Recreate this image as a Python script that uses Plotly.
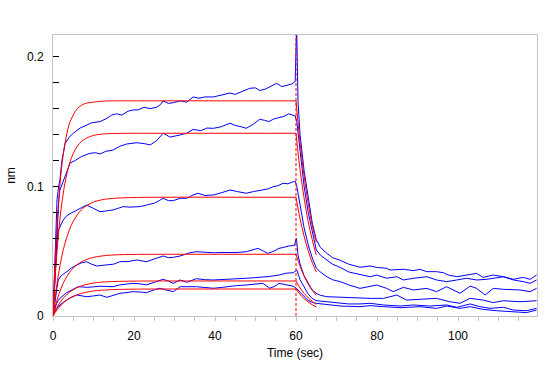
import plotly.graph_objects as go

# ---------------- data ----------------
ASSOC_END = 60

# measured sensorgrams (blue), six concentrations, top to bottom
A_t = [0, 0.3, 0.6, 1.0, 1.4, 1.7, 2.2, 3.0, 4.0, 5.0, 6.7, 8, 9.5, 11.6, 13, 14.5, 15.7, 17, 18.5, 19.8, 21, 22.5, 24, 25.5, 26.5, 27.2, 28.5, 29.7, 31.4, 33, 34.6, 36, 37.5, 39.6, 41, 42.5, 43.7, 45, 46.5, 48.6, 50, 51, 52.4, 53.5, 55.2, 56.5, 57.7, 59, 59.8,
       60.15, 60.5, 61, 62, 63, 64, 65, 66, 67.6, 69, 70.9, 73, 75.8,
       78.3, 79.9, 82.4, 83.2, 86.5, 89.0, 90.6, 92.3, 94.7, 96.4, 97.6, 99.7, 102.1, 104.6, 106.2, 108.7, 111.2, 113.7, 116.1, 117.8, 119.4]
A_v = [0, 0.03, 0.06, 0.09, 0.1, 0.105, 0.12, 0.133, 0.138, 0.141, 0.145, 0.147, 0.149, 0.150, 0.152, 0.155, 0.156, 0.155, 0.158, 0.159, 0.159, 0.161, 0.160, 0.161, 0.163, 0.166, 0.164, 0.1646, 0.166, 0.165, 0.169, 0.168, 0.169, 0.169, 0.170, 0.171, 0.172, 0.171, 0.173, 0.1757, 0.176, 0.174, 0.175, 0.177, 0.1795, 0.177, 0.178, 0.179, 0.181,
       0.225, 0.165, 0.14, 0.112, 0.09, 0.072, 0.059, 0.053, 0.0484, 0.045, 0.043, 0.040, 0.0376,
       0.0386, 0.0375, 0.0368, 0.0355, 0.036, 0.035, 0.036, 0.0342, 0.0342, 0.0334, 0.0316, 0.0303, 0.0316, 0.0329, 0.0298, 0.0316, 0.0303, 0.0283, 0.0298, 0.0283, 0.0316]

B_t = [0, 0.3, 0.7, 1.0, 1.4, 1.7, 2.5, 3.0, 4.2, 5.5, 7, 9.1, 10.5, 11.6, 13, 14.8, 16.5, 18.2, 19.5, 20.7, 22.5, 24, 25.5, 26.4, 27.2, 28.9, 30, 31.4, 33, 34.6, 36.5, 38, 39.6, 41.5, 43.7, 45, 46.5, 47.7, 49.5, 51, 52.2, 53.3, 54.5, 55.8, 57, 58.2, 59.8,
       60.2, 61, 62, 63, 64, 65, 66, 67.6, 69, 70.9, 73, 75.8,
       78.3, 79.9, 82.4, 84.9, 86.5, 89.0, 92.3, 94.7, 97.2, 99.7, 102.1, 104.6, 107.1, 111.2, 113.7, 116.1, 117.8, 119.4]
B_v = [0, 0.02, 0.05, 0.07, 0.088, 0.097, 0.104, 0.108, 0.118, 0.12, 0.123, 0.1255, 0.126, 0.125, 0.127, 0.128, 0.131, 0.1327, 0.133, 0.1337, 0.133, 0.132, 0.135, 0.138, 0.141, 0.138, 0.139, 0.1397, 0.141, 0.144, 0.143, 0.145, 0.1448, 0.146, 0.1487, 0.147, 0.146, 0.1448, 0.148, 0.1518, 0.151, 0.150, 0.152, 0.1533, 0.154, 0.156, 0.1543,
       0.150, 0.128, 0.1, 0.08, 0.064, 0.051, 0.047, 0.043, 0.040, 0.0375, 0.034, 0.032,
       0.0303, 0.0316, 0.0291, 0.0303, 0.0278, 0.0291, 0.0303, 0.0278, 0.0265, 0.0278, 0.0291, 0.0278, 0.0283, 0.0303, 0.0278, 0.0265, 0.0252, 0.0278]

C_t = [0, 0.3, 0.7, 1.0, 1.3, 2.0, 2.5, 3.3, 4.2, 5.5, 6.7, 8.3, 10, 11.6, 13, 14.8, 16, 17.3, 19, 21.5, 23.1, 25, 26.2, 27.2, 28.5, 29.7, 31.4, 33, 34.6, 35.8, 37.5, 39.6, 41.5, 43.7, 45.5, 47.7, 49.5, 51.8, 53, 54.4, 55.5, 56.8, 58, 59.3, 59.8,
       60.2, 61, 62, 63, 64, 65, 66, 67.6, 69, 70.9, 73, 75.8,
       78.3, 79.9, 82.4, 84.0, 86.5, 89.0, 92.3, 94.7, 97.2, 100.5, 103.0, 104.6, 106.7, 108.7, 111.2, 115.3, 117.8, 119.4]
C_v = [0, 0.02, 0.045, 0.058, 0.066, 0.071, 0.074, 0.077, 0.079, 0.081, 0.083, 0.0856, 0.083, 0.0805, 0.081, 0.0818, 0.083, 0.0844, 0.084, 0.0844, 0.0856, 0.087, 0.089, 0.0908, 0.089, 0.089, 0.0908, 0.0908, 0.0934, 0.0947, 0.093, 0.0934, 0.095, 0.0972, 0.096, 0.0947, 0.096, 0.0972, 0.098, 0.0998, 0.1005, 0.1024, 0.102, 0.1036, 0.104,
       0.100, 0.085, 0.068, 0.055, 0.045, 0.037, 0.034, 0.0303, 0.028, 0.0265, 0.024, 0.0213,
       0.0231, 0.0239, 0.0213, 0.0188, 0.0221, 0.0201, 0.0213, 0.0188, 0.0226, 0.0175, 0.0231, 0.0213, 0.0162, 0.0213, 0.0206, 0.0201, 0.0188, 0.0213]

D_t = [0, 0.3, 0.6, 1.0, 1.3, 2.0, 3.4, 4.5, 5.9, 7, 8.3, 9.5, 10.8, 12, 13.3, 15, 16.5, 18.5, 20.7, 22, 23.1, 25, 27.2, 28.5, 29.7, 31.4, 33.8, 35.4, 37.5, 39.6, 41.5, 43.7, 45.5, 47.7, 49.2, 50.6, 52, 53, 54.5, 55.8, 57, 58.2, 59.6,
       60.1, 60.5, 61, 62, 63, 64, 65, 66, 67.6, 70.9, 73, 75.8,
       78.3, 81.6, 84.9, 87.3, 90.6, 94.7, 98.0, 100.5, 103.0, 106.2, 108.7, 111.2, 115.3, 119.4]
D_v = [0, 0.008, 0.015, 0.022, 0.0278, 0.031, 0.0342, 0.037, 0.0394, 0.041, 0.0419, 0.040, 0.0386, 0.039, 0.0394, 0.040, 0.0419, 0.042, 0.0432, 0.0425, 0.0419, 0.044, 0.0463, 0.045, 0.0453, 0.0463, 0.0488, 0.0496, 0.049, 0.0488, 0.049, 0.0488, 0.049, 0.0496, 0.051, 0.0522, 0.050, 0.0483, 0.050, 0.0522, 0.053, 0.054, 0.0545,
       0.060, 0.047, 0.040, 0.031, 0.025, 0.020, 0.0175, 0.016, 0.0149, 0.0144, 0.014, 0.0136,
       0.0136, 0.0136, 0.0162, 0.0123, 0.0129, 0.0136, 0.011, 0.0098, 0.0136, 0.0123, 0.0103, 0.0118, 0.011, 0.0118]

E_t = [0, 0.4, 0.9, 1.5, 2.5, 3.3, 4.2, 5.2, 6.2, 7.3, 8.3, 10, 11.6, 13, 14.8, 16.5, 18, 19.8, 21.5, 23.1, 25, 27.2, 28.5, 29.7, 31.4, 33, 35.4, 37.5, 39.6, 41.5, 43.7, 45.5, 47.7, 49.5, 51.8, 53.5, 55.8, 57.5, 59.3,
       60.2, 61, 62, 63, 64, 65, 67.6, 70.9, 73, 75.8,
       78.3, 81.6, 85.7, 89.0, 93.1, 97.2, 99.7, 103.0, 105.4, 107.9, 111.2, 113.7, 116.9, 119.4]
E_v = [0, 0.005, 0.0098, 0.013, 0.0162, 0.018, 0.0193, 0.021, 0.0226, 0.0224, 0.0221, 0.0225, 0.023, 0.0228, 0.0226, 0.024, 0.0245, 0.0252, 0.0248, 0.024, 0.026, 0.0283, 0.027, 0.0252, 0.0278, 0.026, 0.0288, 0.028, 0.0278, 0.028, 0.0283, 0.0288, 0.0291, 0.0295, 0.030, 0.0305, 0.0316, 0.033, 0.0334,
       0.0355, 0.028, 0.022, 0.017, 0.0135, 0.0118, 0.011, 0.0098, 0.0093, 0.0093,
       0.0098, 0.0085, 0.0077, 0.0085, 0.0077, 0.0085, 0.0067, 0.0093, 0.0072, 0.0059, 0.0067, 0.0046, 0.0041, 0.0059]

F_t = [0, 0.5, 1.3, 2.2, 3.4, 4.5, 5.9, 7, 8.3, 10, 11.6, 13.3, 15, 16.5, 18, 19.8, 21.5, 23.1, 24.8, 26.4, 28, 29.7, 31.4, 33, 35.4, 37.5, 39.6, 41.5, 43.7, 45.5, 47.7, 49.8, 51.8, 53.5, 54.8, 55.8, 57.5, 59.3,
       60.2, 61, 62, 63, 64, 65, 67.6, 70.9, 75.8,
       78.3, 81.6, 85.7, 90.6, 94.7, 97.2, 100.5, 103.0, 106.2, 109.5, 112.8, 116.9, 119.4]
F_v = [0, 0.004, 0.0072, 0.0098, 0.0123, 0.0145, 0.0162, 0.0158, 0.0149, 0.0155, 0.0162, 0.0144, 0.016, 0.0175, 0.018, 0.0188, 0.0185, 0.018, 0.020, 0.0214, 0.020, 0.0188, 0.0226, 0.0226, 0.0226, 0.022, 0.0214, 0.022, 0.023, 0.0235, 0.0239, 0.0245, 0.0252, 0.0214, 0.023, 0.0252, 0.024, 0.023,
       0.021, 0.018, 0.015, 0.012, 0.0105, 0.0098, 0.009, 0.0077, 0.0072,
       0.008, 0.0072, 0.0064, 0.0072, 0.0059, 0.0077, 0.0059, 0.0072, 0.0051, 0.0041, 0.0033, 0.0026, 0.0046]

# fitted curves (red): association and dissociation
FIT_ASSOC_T = [0, 0.5, 1, 1.5, 2, 2.5, 3, 4, 5, 6, 7, 8, 10, 12, 15, 20, 25, 60]
FIT1_ASSOC = [0, 0.040, 0.070, 0.093, 0.111, 0.124, 0.134, 0.148, 0.155, 0.160, 0.1625, 0.164, 0.165, 0.1657, 0.166, 0.166, 0.166, 0.166]
FIT2_ASSOC = [0, 0.0278, 0.0502, 0.0681, 0.0825, 0.094, 0.1033, 0.1167, 0.1254, 0.131, 0.1346, 0.1368, 0.1393, 0.1403, 0.1408, 0.141, 0.141, 0.141]
FIT3_ASSOC = [0, 0.0135, 0.0251, 0.0349, 0.0433, 0.0505, 0.0565, 0.0661, 0.0731, 0.0781, 0.0819, 0.0845, 0.0879, 0.0896, 0.0908, 0.0914, 0.0916, 0.0916]
FIT4_ASSOC = [0, 0.0066, 0.0123, 0.0172, 0.0215, 0.0251, 0.0282, 0.0333, 0.037, 0.0397, 0.0418, 0.0433, 0.0452, 0.0463, 0.0471, 0.0475, 0.0476, 0.0476]
FIT5_ASSOC = [0, 0.0035, 0.0066, 0.0093, 0.0116, 0.0136, 0.0153, 0.0182, 0.0203, 0.022, 0.0232, 0.0241, 0.0254, 0.0261, 0.0266, 0.0269, 0.027, 0.027]
FIT6_ASSOC = [0, 0.0025, 0.0048, 0.0067, 0.0084, 0.0099, 0.0113, 0.0135, 0.0151, 0.0164, 0.0174, 0.0182, 0.0193, 0.0199, 0.0204, 0.0207, 0.0208, 0.0208]

FIT_DISS_T = [60, 61, 62, 63, 64, 65]
FIT1_DISS = [0.166, 0.134, 0.108, 0.087, 0.070, 0.057]
FIT2_DISS = [0.141, 0.113, 0.091, 0.073, 0.059, 0.047]
FIT3_DISS = [0.0916, 0.075, 0.0616, 0.0505, 0.0414, 0.034]
FIT4_DISS = [0.0476, 0.0383, 0.0308, 0.0247, 0.0199, 0.016]
FIT5_DISS = [0.027, 0.0217, 0.0174, 0.014, 0.0112, 0.009]
FIT6_DISS = [0.0208, 0.0167, 0.0134, 0.0108, 0.0087, 0.007]

X_TICKS = [0, 20, 40, 60, 80, 100]
Y_TICKS = [0, 0.1, 0.2]
Y_TICK_LABELS = ["0", "0.1", "0.2"]

# ---------------- figure ----------------
BLUE = "#0000FF"
RED = "#FF0000"
FRAME = "#c4c4c4"
FONT = "Liberation Sans, Arial, sans-serif"

fig = go.Figure()

measured = [(A_t, A_v), (B_t, B_v), (C_t, C_v), (D_t, D_v), (E_t, E_v), (F_t, F_v)]
for t, v in measured:
    fig.add_trace(go.Scatter(x=t, y=v, mode="lines", line=dict(color=BLUE, width=1),
                             hoverinfo="skip", showlegend=False))

fits_assoc = [FIT1_ASSOC, FIT2_ASSOC, FIT3_ASSOC, FIT4_ASSOC, FIT5_ASSOC, FIT6_ASSOC]
fits_diss = [FIT1_DISS, FIT2_DISS, FIT3_DISS, FIT4_DISS, FIT5_DISS, FIT6_DISS]
for fa, fd in zip(fits_assoc, fits_diss):
    fig.add_trace(go.Scatter(x=FIT_ASSOC_T, y=fa, mode="lines", line=dict(color=RED, width=1),
                             line_shape="spline", hoverinfo="skip", showlegend=False))
    fig.add_trace(go.Scatter(x=FIT_DISS_T, y=fd, mode="lines", line=dict(color=RED, width=1),
                             line_shape="spline", hoverinfo="skip", showlegend=False))

fig.add_shape(type="line", xref="x", yref="paper", x0=ASSOC_END, x1=ASSOC_END, y0=0, y1=1,
              line=dict(color=RED, width=1, dash="3px,2px"))

fig.update_layout(
    width=547, height=366, autosize=False,
    margin=dict(l=53, r=10, t=35, b=50),
    paper_bgcolor="white", plot_bgcolor="white",
    font=dict(family=FONT, size=12, color="black"),
    xaxis=dict(
        range=[0, 119.5], showgrid=False, zeroline=False, automargin=False,
        showline=True, linecolor=FRAME, linewidth=1, mirror=True,
        tickmode="array", tickvals=X_TICKS, ticktext=[str(x) for x in X_TICKS],
        ticks="outside", ticklen=4, tickcolor=FRAME, tickwidth=1,
        minor=dict(dtick=5, ticks="outside", ticklen=4, tickcolor=FRAME, tickwidth=1, showgrid=False),
        tickfont=dict(family=FONT, size=12, color="black"), ticklabelstandoff=5,
        title=dict(text="Time (sec)", font=dict(family=FONT, size=12, color="black"), standoff=6),
    ),
    yaxis=dict(
        range=[0, 0.2168], showgrid=False, zeroline=False, automargin=False,
        showline=True, linecolor=FRAME, linewidth=1, mirror=True,
        tickmode="array", tickvals=Y_TICKS, ticktext=Y_TICK_LABELS,
        ticks="inside", ticklen=6, tickcolor="black", tickwidth=1,
        minor=dict(dtick=0.02, ticks="inside", ticklen=6, tickcolor="black", tickwidth=1, showgrid=False),
        tickfont=dict(family=FONT, size=12, color="black"), ticklabelstandoff=6,
        title=dict(text="nm", font=dict(family=FONT, size=12, color="black"), standoff=8),
    ),
)

fig.write_html("out.html", config={"displayModeBar": False},
               post_script="document.body.style.margin='0';")
